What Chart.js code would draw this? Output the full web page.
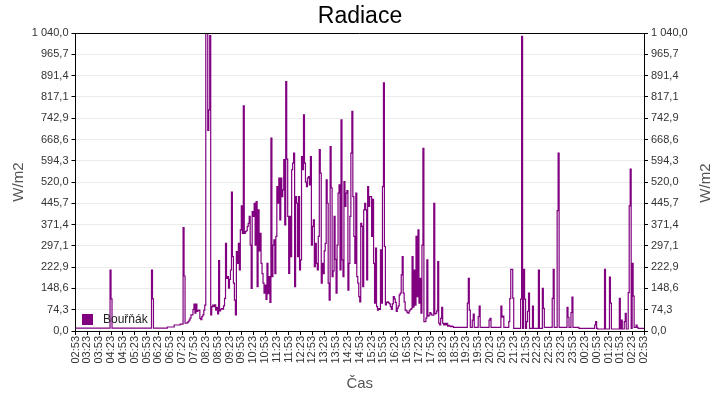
<!DOCTYPE html>
<html><head><meta charset="utf-8">
<script src="https://cdn.jsdelivr.net/npm/chart.js@4/dist/chart.umd.min.js"></script>
<style>html,body{margin:0;padding:0;background:#fff;}canvas{display:block;}</style>
</head><body>
<canvas id="c" width="720" height="400"></canvas>
<script>
const chartTitle = 'Radiace';
const seriesName = 'Bouřňák';
const xTitle = 'Čas';
const yTitle = 'W/m2';
const startMinuteOfDay = 2 * 60 + 53;   // 02:53
const stepSeconds = 150;                // one reading every 2.5 min

// Radiation readings (W/m2), 02:53 -> 02:53 next day
const radiation = [
  10,10,10,10,10,10,10,10,10,10,
  10,10,10,10,10,10,10,10,10,10,
  10,10,10,10,10,10,10,10,10,10,
  10,10,10,10,10,213,112,10,10,10,
  10,10,10,10,10,10,10,10,10,10,
  10,10,10,10,10,10,10,10,10,10,
  10,10,10,10,10,10,10,10,10,10,
  10,10,10,10,10,10,10,213,112,10,
  10,10,10,10,10,10,10,10,10,10,
  10,10,10,14,14,14,14,14,14,14,
  21,21,21,21,21,21,
  24,24,24,361,192,27,27,29,33,38,
  45,56,56,75,94,62,94,68,72,73,
  44,40,50,56,73,90,1040,1040,700,772,
  1031,56,85,90,85,91,73,83,60,246,
  70,76,78,76,88,114,306,184,190,150,
  180,213,485,260,167,108,56,277,236,306,
  213,353,437,341,786,341,347,350,365,376,
  400,300,149,417,400,446,300,452,155,423,
  280,
  341,236,200,167,132,160,110,236,130,190,
  100,673,190,300,318,200,330,504,446,534,
  388,534,469,493,598,370,871,600,400,201,
  400,260,563,586,621,155,469,446,260,469,
  213,248,609,563,755,586,520,504,534,539,
  510,609,300,365,388,225,306,236,213,330,
  633,551,167,236,200,280,306,528,446,167,
  108,644,500,190,210,400,250,132,300,481,
  510,
  213,737,248,190,522,435,481,490,143,236,
  400,621,767,469,330,236,481,190,167,120,
  102,376,365,155,423,446,423,178,504,435,
  469,469,330,460,236,97,289,85,73,78,
  75,283,97,504,866,295,91,100,102,98,
  95,85,75,95,120,112,100,68,80,88,
  126,132,196,260,132,102,73,70,64,62,
  70,75,78,260,83,213,90,330,120,353,
  97,
  184,62,300,638,33,33,45,248,52,55,
  64,60,55,55,446,60,62,70,242,27,
  21,44,83,27,21,27,21,27,17,20,
  17,15,17,15,
  13,13,13,13,13,13,13,13,13,13,13,13,13,13,
  97,184,73,
  13,13,
  38,59,
  13,13,13,13,
  50,87,
  13,13,13,13,13,13,13,13,13,
  38,44,
  13,13,13,13,13,13,13,13,13,
  13,87,48,52,13,13,13,13,13,33,
  113,215,215,115,9,9,9,9,9,9,
  9,111,1029,9,215,111,9,33,69,132,
  9,9,9,87,9,9,9,9,9,213,
  9,9,9,149,79,13,13,13,13,13,
  13,13,13,114,215,13,13,13,420,621,
  13,13,13,13,13,13,13,13,83,48,
  13,13,64,118,13,13,13,13,13,13,
  9,9,9,9,9,9,9,9,9,9,
  9,9,9,9,9,9,21,33,9,7,
  7,7,7,7,7,7,215,7,7,7,
  7,188,97,7,7,7,7,7,7,7,
  7,114,7,38,7,7,33,62,7,7,
  134,437,565,9,236,122,13,13,21,13,
  9,9,9,9,9,9,9
];

const xTickLabels = ['02:53','03:23','03:53','04:23','04:53','05:23','05:53','06:23','06:53','07:23',
  '07:53','08:23','08:53','09:23','09:53','10:23','10:53','11:23','11:53','12:23','12:53','13:23',
  '13:53','14:23','14:53','15:23','15:53','16:23','16:53','17:23','17:53','18:23','18:53','19:23',
  '19:53','20:23','20:53','21:23','21:53','22:23','22:53','23:23','23:53','00:23','00:53','01:23',
  '01:53','02:23','02:53'];
const pointsPerLabel = 12;   // 30 min between labelled ticks

const yTickValues = [0,74.2857,148.5714,222.8571,297.1429,371.4286,445.7143,520,
  594.2857,668.5714,742.8571,817.1429,891.4286,965.7143,1040];

const categories = radiation.map((_, i) => {
  const secs = (startMinuteOfDay * 60 + i * stepSeconds) % 86400;
  const h = Math.floor(secs / 3600), m = Math.floor((secs % 3600) / 60), s = secs % 60;
  return String(h).padStart(2, '0') + ':' + String(m).padStart(2, '0') + ':' + String(s).padStart(2, '0');
});

function fmtY(v) {
  const s = Number(v).toFixed(1);
  let [ip, dp] = s.split('.');
  ip = ip.replace(/\B(?=(\d{3})+(?!\d))/g, ' ');
  return ip + ',' + dp;
}

const FONT = '"Liberation Sans", Arial, sans-serif';

const framePlugin = {
  id: 'frameLegend',
  afterDatasetsDraw(chart) {
    const {ctx, chartArea: a} = chart;
    ctx.save();
    ctx.strokeStyle = '#000';
    ctx.lineWidth = 1;
    ctx.beginPath();
    const t = Math.round(a.top) + 0.5;
    ctx.moveTo(a.left, t); ctx.lineTo(a.right, t);
    ctx.stroke();
    const ds = chart.data.datasets[0];
    ctx.fillStyle = ds.borderColor;
    ctx.fillRect(Math.round(a.left) + 6, Math.round(a.bottom) - 17, 11, 11);
    ctx.fillStyle = '#222';
    ctx.font = '12px ' + FONT;
    ctx.textBaseline = 'middle';
    ctx.textAlign = 'left';
    ctx.fillText(ds.label, Math.round(a.left) + 27, Math.round(a.bottom) - 11);
    ctx.fillStyle = '#555';
    ctx.font = '15px ' + FONT;
    ctx.textAlign = 'center';
    ctx.translate(chart.width - 14.5, (a.top + a.bottom) / 2 + 1);
    ctx.rotate(-Math.PI / 2);
    ctx.fillText(yTitle, 0, 0);
    ctx.restore();
  }
};

const yTicksCommon = {
  min: 0, max: 1040,
  afterBuildTicks: s => { s.ticks = yTickValues.map(v => ({value: v})); },
  ticks: { callback: v => fmtY(v), color: '#333', font: {family: FONT, size: 11}, padding: 3 },
  border: { color: '#000', width: 1 }
};

new Chart(document.getElementById('c'), {
  type: 'line',
  data: {
    labels: categories,
    datasets: [{
      label: seriesName,
      data: radiation,
      borderColor: '#800080',
      backgroundColor: '#800080',
      borderWidth: 1.2,
      pointRadius: 0,
      stepped: true,
      tension: 0,
      fill: false,
      yAxisID: 'y'
    }]
  },
  options: {
    responsive: false,
    animation: false,
    devicePixelRatio: 1,
    layout: { padding: 0 },
    plugins: {
      legend: { display: false },
      tooltip: { enabled: false },
      title: {
        display: true, text: chartTitle, color: '#000',
        font: { family: FONT, size: 23, weight: 'normal', lineHeight: 1.2 },
        padding: { top: 3, bottom: 2.5 }
      }
    },
    scales: {
      x: {
        type: 'category',
        afterFit: s => { s.height = 69; },
        ticks: {
          autoSkip: false, minRotation: 90, maxRotation: 90,
          color: '#333', font: {family: FONT, size: 11}, padding: 1,
          callback: (v, i) => (i % pointsPerLabel === 0 ? (xTickLabels[i / pointsPerLabel] || '') : '')
        },
        grid: {
          drawOnChartArea: false, drawTicks: true, tickLength: 4,
          tickColor: ctx => (ctx.index % pointsPerLabel === 0 ? '#000' : 'rgba(0,0,0,0)')
        },
        border: { color: '#000', width: 1 },
        title: { display: true, text: xTitle, color: '#555', font: {family: FONT, size: 15}, padding: {top: 0, bottom: 7} }
      },
      y: Object.assign({}, yTicksCommon, {
        position: 'left',
        afterFit: s => { s.width = 75.5; },
        grid: { color: '#ebebeb', tickColor: '#000', tickLength: 4 },
        title: { display: true, text: yTitle, color: '#555', font: {family: FONT, size: 15}, padding: {top: 10, bottom: 0} }
      }),
      y2: Object.assign({}, yTicksCommon, {
        position: 'right',
        afterFit: s => { s.width = 76; },
        grid: { drawOnChartArea: false, tickColor: '#000', tickLength: 4 },
        title: { display: false }
      })
    }
  },
  plugins: [framePlugin]
});
</script>
</body></html>
